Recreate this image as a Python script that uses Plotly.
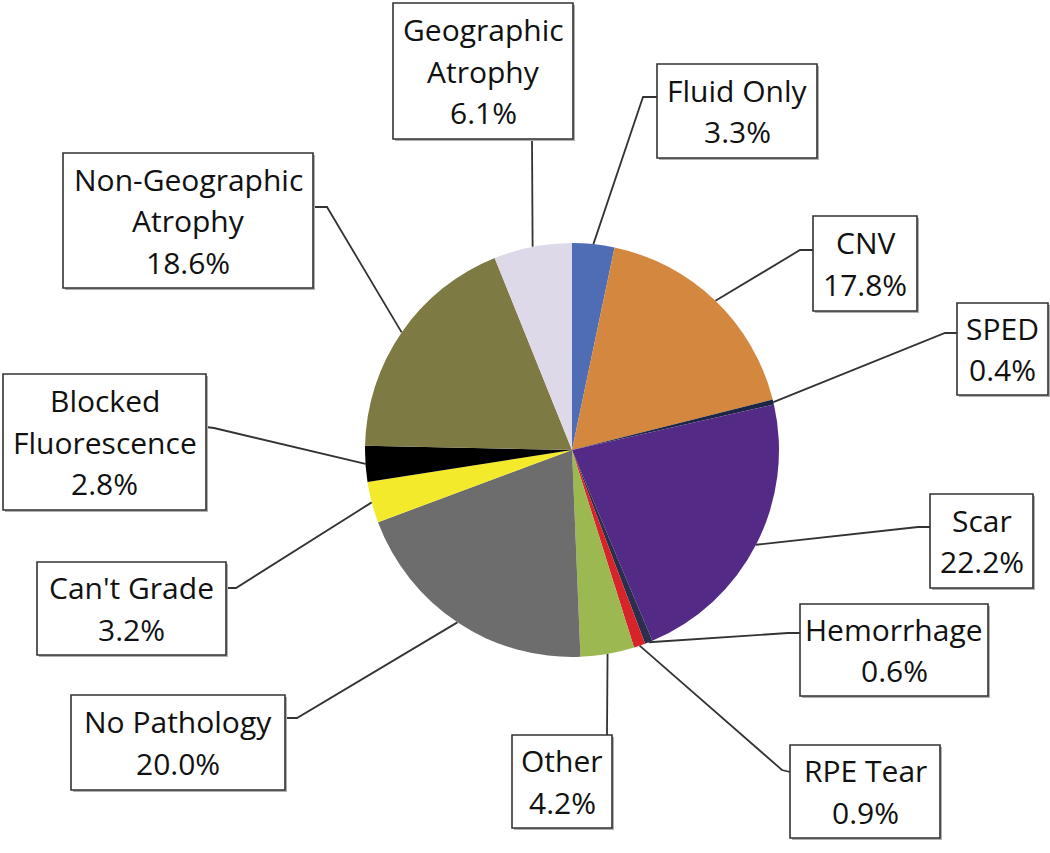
import math
import plotly.graph_objects as go

# ---------------- data ----------------
labels = ["Fluid Only", "CNV", "SPED", "Scar", "Hemorrhage", "RPE Tear", "Other",
          "No Pathology", "Can't Grade", "Blocked Fluorescence",
          "Non-Geographic Atrophy", "Geographic Atrophy"]
values = [3.3, 17.8, 0.4, 22.2, 0.6, 0.9, 4.2, 20.0, 3.2, 2.8, 18.6, 6.1]
box_lines = [["Fluid Only"], ["CNV"], ["SPED"], ["Scar"], ["Hemorrhage"], ["RPE Tear"],
             ["Other"], ["No Pathology"], ["Can't Grade"], ["Blocked", "Fluorescence"],
             ["Non-Geographic", "Atrophy"], ["Geographic", "Atrophy"]]
colors = ["#4E6DB4", "#D4873E", "#1E2645", "#532A85", "#2B2E4C", "#D7232A", "#9BB851",
          "#6D6D6D", "#F2EA2A", "#000000", "#7E7A43", "#DDD9E9"]

# ---------------- layout (pixels) ----------------
W, H = 1050, 853
CX, CY, R = 572, 450, 207
LINE_GAP = 41.5

# label boxes: left, top, right, bottom
boxes = [
    (657, 64, 817, 158),    # Fluid Only
    (813, 216, 917, 311),   # CNV
    (957, 303, 1048, 395),  # SPED
    (930, 494, 1033, 588),  # Scar
    (800, 604, 988, 696),   # Hemorrhage
    (790, 745, 940, 838),   # RPE Tear
    (512, 735, 612, 828),   # Other
    (71, 695, 285, 790),    # No Pathology
    (37, 562, 226, 655),    # Can't Grade
    (3, 374, 206, 510),     # Blocked
    (63, 153, 313, 288),    # Non-Geo
    (393, 3, 573, 139),     # Geographic
]
# leader attach point on box and elbow point (None = straight)
attach = [
    ((657, 97), (643, 97)),
    ((813, 250), (800, 250)),
    ((957, 333), (945, 333)),
    ((930, 527), (918, 527)),
    ((800, 633), (788, 633)),
    ((790, 772), (782, 770)),
    ((607, 735), None),
    ((285, 718), (297, 718)),
    ((226, 588), (236, 588)),
    ((206, 427), (214, 428)),
    ((313, 207), (327, 207)),
    ((532, 139), None),
]

total = sum(values)
fig = go.Figure()

# leader lines (drawn beneath the pie)
lx, ly = [], []
cum = 0.0
for v, (a, e) in zip(values, attach):
    mid = (cum + v / 2) / total * 2 * math.pi
    cum += v
    px = CX + R * math.sin(mid)
    py = CY - R * math.cos(mid)
    lx += [a[0]] + ([e[0]] if e else []) + [px, None]
    ly += [a[1]] + ([e[1]] if e else []) + [py, None]

fig.add_trace(go.Scatter(x=lx, y=ly, mode="lines", line=dict(color="#333333", width=1.8),
                         hoverinfo="skip", showlegend=False))

fig.add_trace(go.Pie(
    labels=labels, values=values, sort=False, direction="clockwise", rotation=0,
    marker=dict(colors=colors, line=dict(width=0)),
    textinfo="none", hoverinfo="label+percent", showlegend=False,
    domain=dict(x=[(CX - R) / W, (CX + R) / W], y=[(H - CY - R) / H, (H - CY + R) / H]),
))

FONT = dict(family="Open Sans, sans-serif", size=30, color="#111111")
shapes = []
annotations = []
for (x0, y0, x1, y1), lines, v in zip(boxes, box_lines, values):
    shapes.append(dict(type="rect", xref="x", yref="y", x0=x0 + 2, y0=y0 + 2, x1=x1 + 2, y1=y1 + 2,
                       fillcolor="#b0b0b0", line=dict(width=0), layer="above"))
    shapes.append(dict(type="rect", xref="x", yref="y", x0=x0, y0=y0, x1=x1, y1=y1,
                       fillcolor="white", line=dict(color="#333333", width=1.6), layer="above"))
    all_lines = lines + [f"{v:.1f}%"]
    n = len(all_lines)
    cxm = (x0 + x1) / 2
    cym = (y0 + y1) / 2
    for i, t in enumerate(all_lines):
        annotations.append(dict(
            xref="x", yref="y", x=cxm, y=cym + (i - (n - 1) / 2) * LINE_GAP,
            xanchor="center", yanchor="middle", text=t, showarrow=False, font=FONT,
        ))

fig.update_layout(
    width=W, height=H, margin=dict(l=0, r=0, t=0, b=0),
    paper_bgcolor="white", plot_bgcolor="rgba(0,0,0,0)",
    xaxis=dict(range=[0, W], visible=False, fixedrange=True, domain=[0, 1]),
    yaxis=dict(range=[H, 0], visible=False, fixedrange=True, domain=[0, 1]),
    shapes=shapes, annotations=annotations,
)

fig.write_html("out.html", config={"displayModeBar": False},
               post_script="document.body.style.margin='0';document.body.style.overflow='hidden';")
